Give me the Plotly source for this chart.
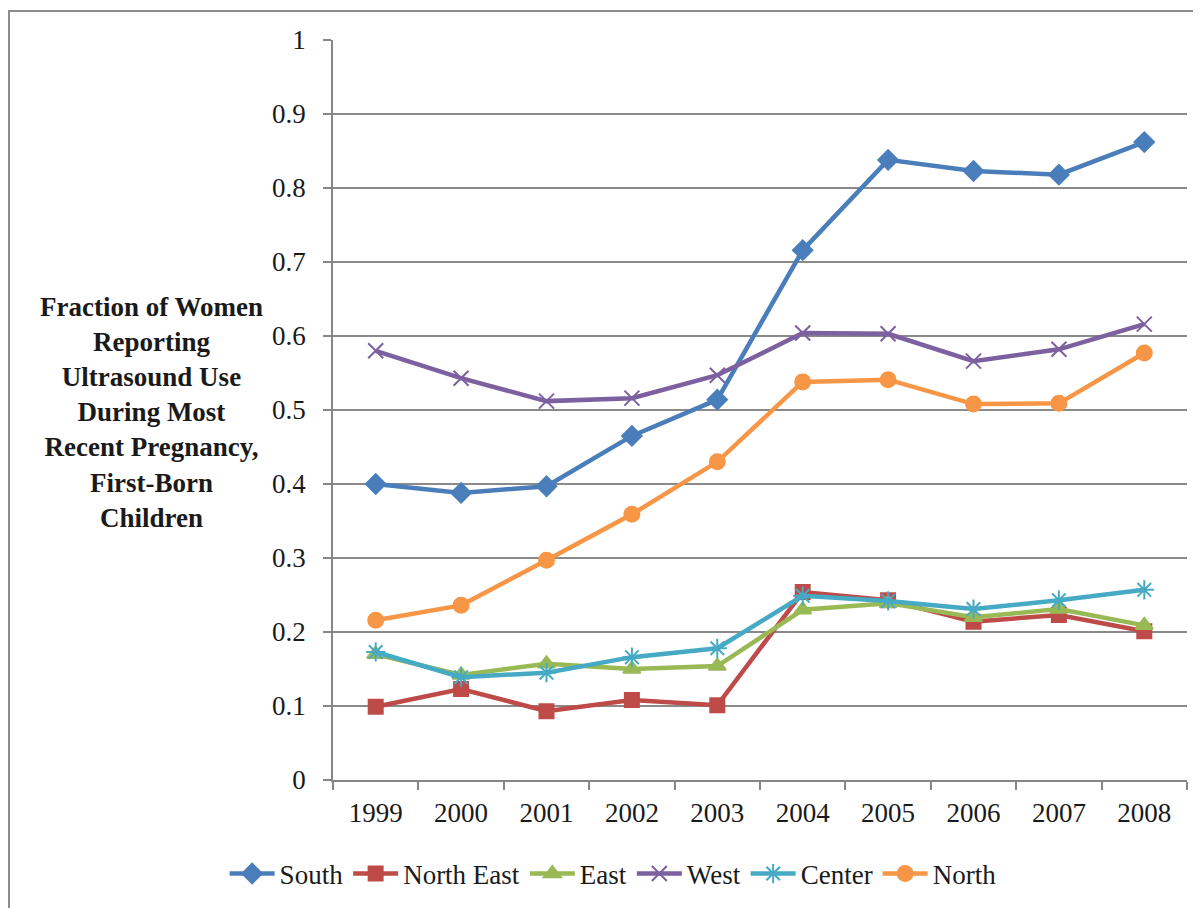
import plotly.graph_objects as go

years = ["1999", "2000", "2001", "2002", "2003", "2004", "2005", "2006", "2007", "2008"]
south = [0.400, 0.388, 0.397, 0.465, 0.514, 0.716, 0.838, 0.823, 0.818, 0.862]
north_east = [0.099, 0.123, 0.093, 0.108, 0.101, 0.254, 0.243, 0.214, 0.223, 0.201]
east = [0.170, 0.142, 0.157, 0.150, 0.154, 0.230, 0.239, 0.220, 0.231, 0.209]
west = [0.580, 0.543, 0.512, 0.516, 0.547, 0.604, 0.603, 0.566, 0.582, 0.616]
center = [0.173, 0.139, 0.145, 0.166, 0.178, 0.249, 0.242, 0.231, 0.243, 0.257]
north = [0.216, 0.236, 0.297, 0.359, 0.430, 0.538, 0.541, 0.508, 0.509, 0.577]

series = [
    ("South", south, "#4A7EBB", "diamond", 15),
    ("North East", north_east, "#BE4B48", "square", 14),
    ("East", east, "#98B954", "triangle-up", 15),
    ("West", west, "#7D60A0", "x-thin", 15),
    ("Center", center, "#46AAC5", "asterisk", 16),
    ("North", north, "#F79646", "circle", 15),
]

fig = go.Figure()
for name, vals, color, sym, size in series:
    fig.add_trace(go.Scatter(
        x=years, y=vals, name=name, mode="lines+markers",
        line=dict(color=color, width=4.5),
        marker=dict(symbol=sym, size=size, color=color,
                    line=dict(color=color, width=2)),
    ))

font_family = "Liberation Serif, Times New Roman, serif"

W, H = 1193, 900
L, T, R, B = 325, 32, 14, 128
PW = W - L - R
PH = H - T - B

fig.update_layout(
    width=W, height=H,
    margin=dict(l=L, r=R, t=T, b=B, autoexpand=False),
    paper_bgcolor="white", plot_bgcolor="white",
    font=dict(family=font_family, size=27, color="#1a1a1a"),
    showlegend=True,
    legend=dict(orientation="h", x=0.328, xanchor="center", y=-0.127, yanchor="middle",
                font=dict(size=27, family=font_family), itemwidth=45,
                traceorder="normal"),
    xaxis=dict(type="category", showgrid=False, showline=True, linecolor="#868686",
               linewidth=1.5, ticks="outside", tickson="boundaries", ticklen=8,
               tickcolor="#868686", tickwidth=1.5, tickfont=dict(size=27),
               ticklabelstandoff=8, automargin=False,
               range=[-0.5, 9.5]),
    yaxis=dict(range=[0, 1], showgrid=True, gridcolor="#8a8a8a", gridwidth=1.5,
               showline=True, linecolor="#868686", linewidth=1.5, ticks="outside",
               ticklen=8, tickcolor="#868686", tickwidth=1.5, tickfont=dict(size=27),
               ticklabelstandoff=12, zeroline=False, automargin=False,
               tickvals=[0, 0.1, 0.2, 0.3, 0.4, 0.5, 0.6, 0.7, 0.8, 0.9, 1],
               ticktext=["0", "0.1", "0.2", "0.3", "0.4", "0.5", "0.6", "0.7", "0.8", "0.9", "1"]),
)

fig.add_annotation(
    xref="paper", yref="paper", x=-0.212, y=0.497, xanchor="center", yanchor="middle",
    text="<b>Fraction of Women<br>Reporting<br>Ultrasound Use<br>During Most<br>Recent Pregnancy,<br>First-Born<br>Children</b>",
    showarrow=False, align="center", font=dict(size=27, family=font_family, color="#1a1a1a"),
)

# outer frame
fig.add_shape(type="rect", xref="paper", yref="paper",
              x0=(1 - L) / PW, x1=(W + 20 - L) / PW,
              y0=(PH + T - H - 20) / PH, y1=(PH + T - 3) / PH,
              line=dict(color="#8c8c8c", width=2), fillcolor="rgba(0,0,0,0)", layer="below")

fig.write_html("out.html")
